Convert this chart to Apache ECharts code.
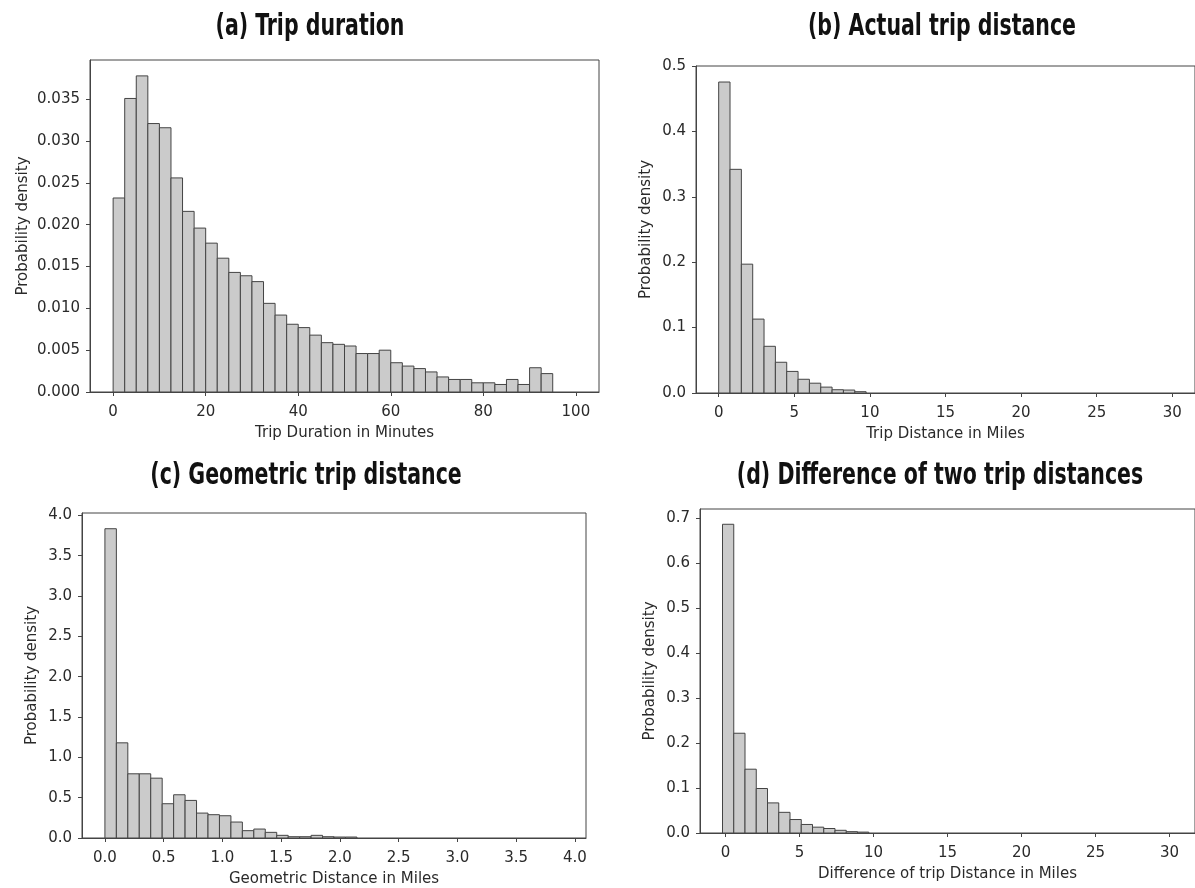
<!DOCTYPE html>
<html>
<head>
<meta charset="utf-8">
<script src="https://cdn.jsdelivr.net/npm/echarts@6/dist/echarts.min.js"></script>
<style>
  html, body { margin: 0; padding: 0; background: #fff; }
  #chart { width: 1195px; height: 888px; }
</style>
</head>
<body>
<div id="chart"></div>
<script>
  // histogram densities, one value per bin
  const tripDuration = [0.0232, 0.0351, 0.0378, 0.0321, 0.0316, 0.0256, 0.0216, 0.0196, 0.0178, 0.0160,
    0.0143, 0.0139, 0.0132, 0.0106, 0.0092, 0.0081, 0.0077, 0.0068, 0.0059, 0.0057,
    0.0055, 0.0046, 0.0046, 0.0050, 0.0035, 0.0031, 0.0028, 0.0024, 0.0018, 0.0015,
    0.0015, 0.0011, 0.0011, 0.0009, 0.0015, 0.0009, 0.0029, 0.0022]
  const actualDistance = [0.4755, 0.342, 0.197, 0.113, 0.0714, 0.047, 0.033, 0.021, 0.015, 0.009, 0.005, 0.0045, 0.002]
  const geometricDistance = [3.835, 1.18, 0.796, 0.796, 0.742, 0.425, 0.536, 0.466, 0.309, 0.289, 0.276,
    0.198, 0.091, 0.111, 0.07, 0.033, 0.016, 0.016, 0.033, 0.016, 0.012, 0.012]
  const distanceDifference = [0.687, 0.222, 0.142, 0.099, 0.067, 0.046, 0.030, 0.019, 0.013, 0.010, 0.006, 0.003, 0.002]

  // bin layout: first edge and width
  const tripDurationBins = { start: 0, width: 2.5 }
  const actualDistanceBins = { start: 0, width: 0.75 }
  const geometricDistanceBins = { start: 0, width: 0.0975 }
  const distanceDifferenceBins = { start: -0.2, width: 0.76 }

  // tick labels
  const tripDurationXTicks = [0, 20, 40, 60, 80, 100]
  const tripDurationYTicks = [0, 0.005, 0.010, 0.015, 0.020, 0.025, 0.030, 0.035]
  const actualDistanceXTicks = [0, 5, 10, 15, 20, 25, 30]
  const actualDistanceYTicks = [0, 0.1, 0.2, 0.3, 0.4, 0.5]
  const geometricDistanceXTicks = [0, 0.5, 1.0, 1.5, 2.0, 2.5, 3.0, 3.5, 4.0]
  const geometricDistanceYTicks = [0, 0.5, 1.0, 1.5, 2.0, 2.5, 3.0, 3.5, 4.0]
  const distanceDifferenceXTicks = [0, 5, 10, 15, 20, 25, 30]
  const distanceDifferenceYTicks = [0, 0.1, 0.2, 0.3, 0.4, 0.5, 0.6, 0.7]

  const titles = ['(a) Trip duration', '(b) Actual trip distance', '(c) Geometric trip distance', '(d) Difference of two trip distances']
  const xNames = ['Trip Duration in Minutes', 'Trip Distance in Miles', 'Geometric Distance in Miles', 'Difference of trip Distance in Miles']
  const yName = 'Probability density'

  const tickFont = 'DejaVu Sans'
  const titleFont = "bold 30px 'DejaVu Sans Condensed', 'DejaVu Sans', sans-serif"
  const axisColor = '#444'
  const textColor = '#2a2a2a'

  const binRows = (vals, bins) => vals.map((v, i) => [bins.start + i * bins.width, bins.start + (i + 1) * bins.width, v])

  const panels = [
    { vals: tripDuration, bins: tripDurationBins, xt: tripDurationXTicks, yt: tripDurationYTicks,
      grid: { left: 90, top: 60, width: 509, height: 332 }, x: [-5, 105], y: [0, 0.0397],
      xd: 0, yd: 3, yGap: 59, title: [310, 27] },
    { vals: actualDistance, bins: actualDistanceBins, xt: actualDistanceXTicks, yt: actualDistanceYTicks,
      grid: { left: 696, top: 66, width: 501, height: 327 }, x: [-1.5, 31.5], y: [0, 0.5],
      xd: 0, yd: 1, yGap: 42, title: [942, 27] },
    { vals: geometricDistance, bins: geometricDistanceBins, xt: geometricDistanceXTicks, yt: geometricDistanceYTicks,
      grid: { left: 82, top: 513, width: 504, height: 327 }, x: [-0.195, 4.095], y: [0, 4.03],
      xd: 1, yd: 1, yGap: 42, title: [306, 476] },
    { vals: distanceDifference, bins: distanceDifferenceBins, xt: distanceDifferenceXTicks, yt: distanceDifferenceYTicks,
      grid: { left: 700, top: 509, width: 504, height: 324 }, x: [-1.72, 31.72], y: [0, 0.721],
      xd: 0, yd: 1, yGap: 42, title: [940, 476] }
  ]

  function histItem (params, api) {
    const top = api.coord([api.value(0), api.value(2)])
    const bottom = api.coord([api.value(1), 0])
    return {
      type: 'rect',
      shape: { x: top[0], y: top[1], width: bottom[0] - top[0], height: bottom[1] - top[1] },
      style: { fill: '#cbcbcb', stroke: '#444', lineWidth: 1 }
    }
  }

  const chart = echarts.init(document.getElementById('chart'))
  chart.setOption({
    backgroundColor: '#fff',
    animation: false,
    // narrow bold titles, squeezed to match the condensed face of the original
    graphic: panels.map((p, i) => ({
      type: 'text',
      x: p.title[0],
      y: p.title[1],
      scaleX: 0.76,
      style: { text: titles[i], font: titleFont, fill: '#111', align: 'center', verticalAlign: 'middle' }
    })),
    grid: panels.map(p => Object.assign({ show: true, borderColor: axisColor, borderWidth: 1, backgroundColor: '#fff' }, p.grid)),
    xAxis: panels.map((p, i) => ({
      type: 'value',
      gridIndex: i,
      min: p.x[0],
      max: p.x[1],
      name: xNames[i],
      nameLocation: 'middle',
      nameGap: 34,
      nameTextStyle: { fontFamily: tickFont, fontSize: 15, color: textColor },
      splitLine: { show: false },
      axisLine: { onZero: false, lineStyle: { color: axisColor } },
      axisTick: { customValues: p.xt, length: 4, lineStyle: { color: axisColor } },
      axisLabel: {
        customValues: p.xt,
        margin: 13,
        fontFamily: tickFont,
        fontSize: 15,
        color: textColor,
        formatter: v => v.toFixed(p.xd)
      }
    })),
    yAxis: panels.map((p, i) => ({
      type: 'value',
      gridIndex: i,
      min: p.y[0],
      max: p.y[1],
      name: yName,
      nameLocation: 'middle',
      nameGap: p.yGap,
      nameTextStyle: { fontFamily: tickFont, fontSize: 15, color: textColor },
      splitLine: { show: false },
      axisLine: { show: true, onZero: false, lineStyle: { color: axisColor } },
      axisTick: { show: true, customValues: p.yt, length: 4, lineStyle: { color: axisColor } },
      axisLabel: {
        customValues: p.yt,
        margin: 10,
        fontFamily: tickFont,
        fontSize: 15,
        color: textColor,
        formatter: v => v.toFixed(p.yd)
      }
    })),
    series: panels.map((p, i) => ({
      type: 'custom',
      xAxisIndex: i,
      yAxisIndex: i,
      renderItem: histItem,
      encode: { x: [0, 1], y: 2 },
      clip: true,
      data: binRows(p.vals, p.bins)
    }))
  })
</script>
</body>
</html>
